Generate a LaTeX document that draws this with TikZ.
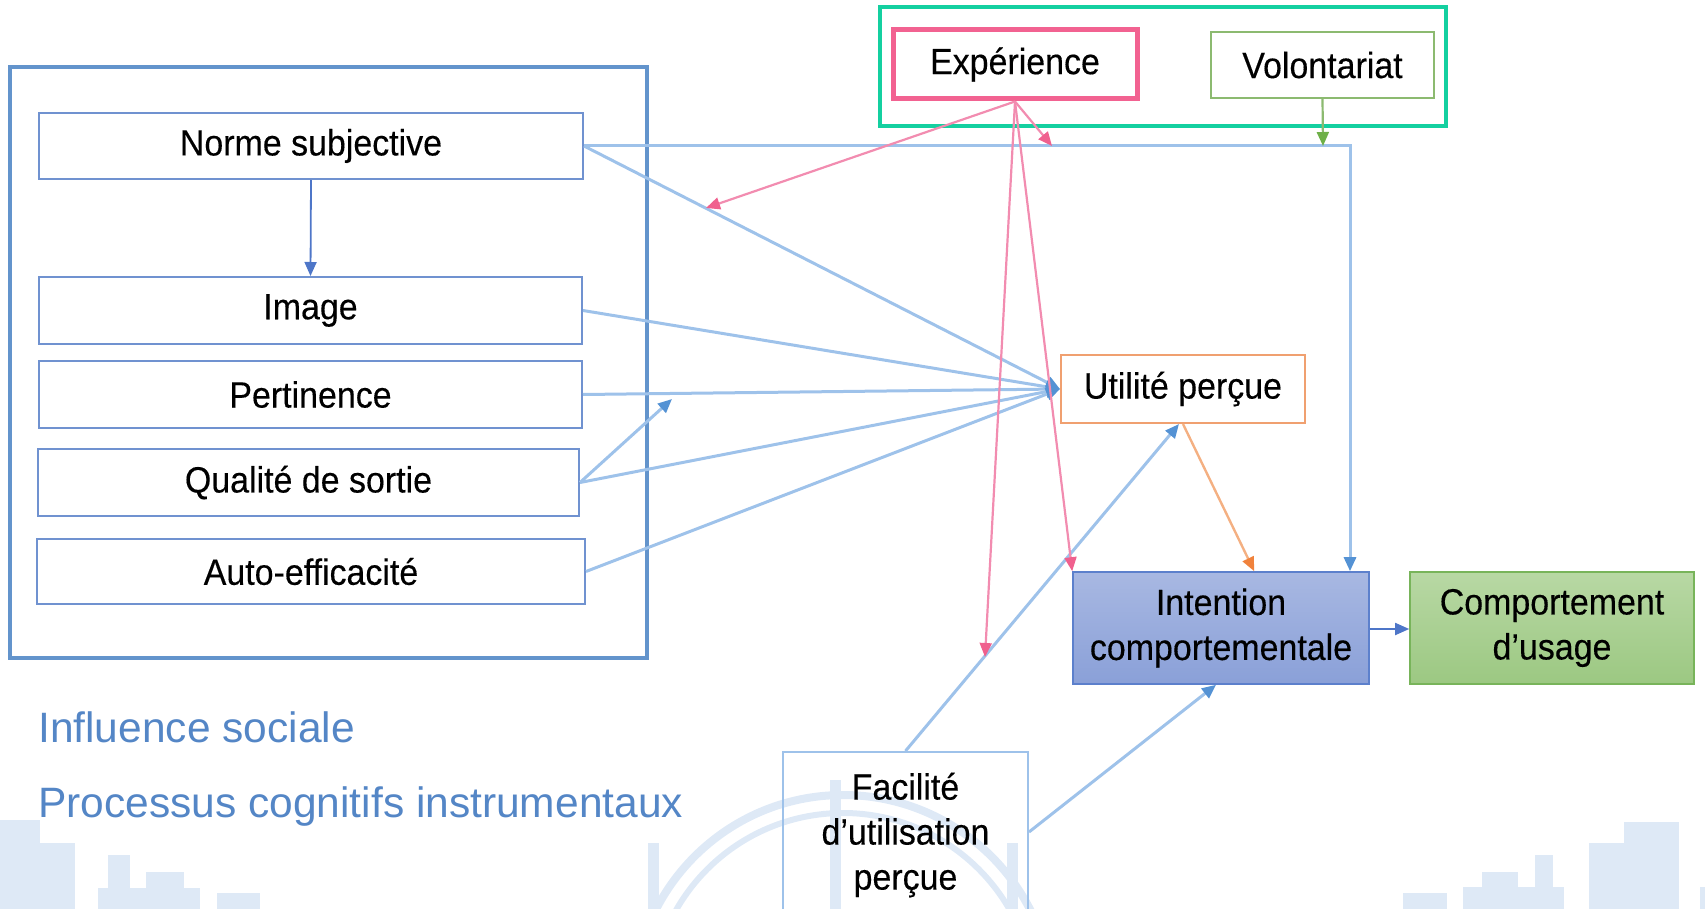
\documentclass[tikz,border=0pt]{standalone}
\usepackage{fontspec}
\setmainfont{Liberation Sans}
\newfontfamily\boxfont{Liberation Sans}[FakeStretch=0.93,FakeBold=0.3]
\usetikzlibrary{arrows.meta}

\definecolor{groupblue}{RGB}{99,148,204}
\definecolor{groupteal}{RGB}{20,208,160}
\definecolor{boxblue}{RGB}{112,146,208}
\definecolor{expink}{RGB}{242,98,145}
\definecolor{volgreen}{RGB}{140,186,112}
\definecolor{utilorange}{RGB}{240,160,112}
\definecolor{connblue}{RGB}{158,194,234}
\definecolor{tipblue}{RGB}{84,146,212}
\definecolor{darkconn}{RGB}{78,118,200}
\definecolor{connpink}{RGB}{242,140,176}
\definecolor{tippink}{RGB}{240,96,142}
\definecolor{connorange}{RGB}{244,176,130}
\definecolor{tiporange}{RGB}{240,130,60}
\definecolor{tipgreen}{RGB}{110,176,72}
\definecolor{labelblue}{RGB}{84,134,198}
\definecolor{wmblue}{RGB}{222,233,246}
\definecolor{intenttop}{RGB}{168,184,226}
\definecolor{intentbot}{RGB}{138,160,216}
\definecolor{intentline}{RGB}{92,128,204}
\definecolor{usagetop}{RGB}{184,216,164}
\definecolor{usagebot}{RGB}{156,200,130}
\definecolor{usageline}{RGB}{120,180,90}

\tikzset{
  boxtext/.style={font=\boxfont\fontsize{36.5}{45}\selectfont, align=center, inner sep=0pt},
  factor/.style={boxtext, draw=boxblue, line width=2pt, fill=white},
  link/.style={draw=connblue, line width=3pt,
    -{Triangle[width=12pt,length=14pt,color=tipblue]}},
  pinklink/.style={draw=connpink, line width=2.2pt,
    -{Triangle[width=12pt,length=14pt,color=tippink]}},
  darklink/.style={draw=darkconn, line width=1.8pt,
    -{Triangle[width=12pt,length=14pt,color=darkconn]}},
  grouplabel/.style={font=\fontsize{42.5}{48}\selectfont, text=labelblue, anchor=base west, inner sep=0pt},
  wm/.style={fill=wmblue, draw=none}
}

\begin{document}
\begin{tikzpicture}[x=1pt,y=-1pt]
\useasboundingbox (0,0) rectangle (1705,909);
\clip (0,0) rectangle (1705,909);

% pale skyline in the background
\fill[wm] (0,843) rectangle (75,909);
\fill[wm] (0,820) rectangle (40,843);
\fill[wm] (98,888) rectangle (200,909);
\fill[wm] (108,855) rectangle (130,888);
\fill[wm] (146,872) rectangle (184,888);
\fill[wm] (217,893) rectangle (260,909);
\draw[wmblue, line width=8pt] (843,1005) circle[radius=210];
\draw[wmblue, line width=6pt] (843,1005) circle[radius=192];
\fill[wm] (648,843) rectangle (659,909);
\fill[wm] (830,780) rectangle (841,909);
\fill[wm] (1007,843) rectangle (1018,909);
\fill[wm] (1403,893) rectangle (1447,909);
\fill[wm] (1463,887) rectangle (1564,909);
\fill[wm] (1482,872) rectangle (1518,887);
\fill[wm] (1535,855) rectangle (1553,887);
\fill[wm] (1589,843) rectangle (1624,909);
\fill[wm] (1624,822) rectangle (1679,909);
\fill[wm] (1700,887) rectangle (1705,909);

% grouping frames
\draw[groupblue, line width=4pt] (10,67) rectangle (647,658);
\draw[groupteal, line width=4pt] (880,7) rectangle (1446,126);

% factors of social influence and cognitive processes
\node[factor, minimum width=544pt, minimum height=66pt] (norme) at (311,146) {Norme subjective};
\node[factor, minimum width=543pt, minimum height=67pt] (image) at (310.5,310.5) {Image};
\node[factor, minimum width=543pt, minimum height=67pt] (pert) at (310.5,394.5) {Pertinence};
\node[factor, minimum width=541pt, minimum height=67pt] (qual) at (308.5,482.5) {Qualité de sortie};
\node[factor, minimum width=548pt, minimum height=65pt] (auto) at (311,571.5) {Auto-efficacité};

% moderators
\node[boxtext, draw=expink, line width=5pt, fill=white, minimum width=244pt, minimum height=69pt] (exper) at (1015,64.5) {Expérience};
\node[boxtext, draw=volgreen, line width=2pt, fill=white, minimum width=223pt, minimum height=66pt] (volont) at (1322.5,65) {Volontariat};

% core constructs
\node[boxtext, draw=utilorange, line width=2pt, fill=white, minimum width=244pt, minimum height=68pt] (util) at (1183,389) {Utilité perçue};
\node[boxtext, draw=intentline, line width=1.6pt, top color=intenttop, bottom color=intentbot, minimum width=296pt, minimum height=112pt] (intent) at (1221,628) {Intention\\comportementale};
\node[boxtext, draw=usageline, line width=1.6pt, top color=usagetop, bottom color=usagebot, minimum width=284pt, minimum height=112pt] (usage) at (1552,628) {Comportement\\d’usage};
\node[boxtext, draw=connblue, line width=2pt, minimum width=245pt, minimum height=166pt] (facil) at (905.5,835) {Facilité\\d’utilisation\\perçue};

% group labels
\node[grouplabel] (lblsoc) at (38,742) {Influence sociale};
\node[grouplabel] (lblcog) at (38,817) {Processus cognitifs instrumentaux};

% anchor points on other connectors
\coordinate (corner) at (1350,146);
\coordinate (onpert) at (672,399);
\coordinate (onnorme) at (706,208);
\coordinate (onhoriz) at (1052,146);
\coordinate (onfacil) at (985,657);
\coordinate (onvol) at (1323,146);

% influence paths
\draw[darklink] (norme.south) -- (image.north);
\draw[link] (norme.east) -- (corner) -- (corner |- intent.north);
\draw[link] (norme.east) -- (util.west);
\draw[link] (image.east) -- (util.west);
\draw[link] (pert.east) -- (util.west);
\draw[link] (qual.east) -- (util.west);
\draw[link] (auto.east) -- (util.west);
\draw[link] (qual.east) -- (onpert);
\draw[link] (facil.north) -- ([xshift=-4pt]util.south);
\draw[link] ([yshift=3pt]facil.east) -- ([xshift=-5pt]intent.south);
\draw[draw=connorange, line width=2.4pt, -{Triangle[width=12pt,length=14pt,color=tiporange]}]
  (util.south) -- ([xshift=182pt]intent.north west);
\draw[darklink] ([yshift=-1pt]intent.east) -- ([yshift=-1pt]usage.west);

% moderating effects
\draw[pinklink] (exper.south) -- (onnorme);
\draw[pinklink] (exper.south) -- (onhoriz);
\draw[pinklink] (exper.south) -- (onfacil);
\draw[pinklink] (exper.south) -- (intent.north west);
\draw[draw=volgreen, line width=2.2pt, -{Triangle[width=12pt,length=14pt,color=tipgreen]}]
  (volont.south) -- (onvol);
\end{tikzpicture}
\end{document}
